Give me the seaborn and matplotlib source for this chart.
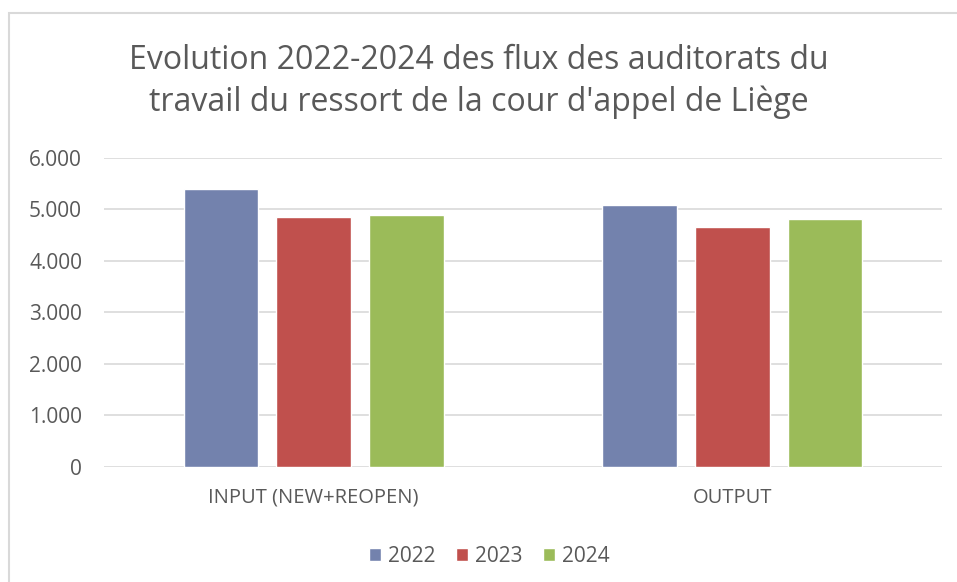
import pandas as pd
import matplotlib.pyplot as plt
import seaborn as sns
from matplotlib.patches import Rectangle
from matplotlib.ticker import FuncFormatter

categories = ['INPUT (NEW+REOPEN)', 'OUTPUT']
years = ['2022', '2023', '2024']
values_2022 = [5400, 5078]
values_2023 = [4856, 4650]
values_2024 = [4883, 4805]
colors = ['#7382ad', '#c0504d', '#9bbb59']

df = pd.DataFrame({
    'category': categories * 3,
    'year': [y for y in years for _ in categories],
    'value': values_2022 + values_2023 + values_2024,
})

sns.set_theme(style='white')
plt.rcParams['font.family'] = ['Open Sans', 'DejaVu Sans']
text_color = '#595959'

fig = plt.figure(figsize=(9.57, 5.82), dpi=100)
ax = fig.add_axes([0.109, 0.198, 0.875, 0.531])

sns.barplot(
    data=df,
    x='category',
    y='value',
    hue='year',
    palette=colors,
    width=0.666,
    gap=0.2,
    saturation=1,
    ax=ax,
)

ax.set_ylim(0, 6000)
ax.set_xlim(-0.5, 1.5)
ax.set_yticks(range(0, 6001, 1000))
ax.yaxis.set_major_formatter(FuncFormatter(lambda v, _: f'{int(v):,}'.replace(',', '.')))
ax.grid(axis='y', color='#d9d9d9', linewidth=1.2)
ax.set_axisbelow(True)
for s in ax.spines.values():
    s.set_visible(False)
ax.set_xlabel('')
ax.set_ylabel('')
ax.tick_params(axis='y', labelsize=15, colors=text_color, pad=16, length=0)
ax.tick_params(axis='x', labelsize=14.5, colors=text_color, pad=15, length=0)

ax.legend(
    loc='center',
    bbox_to_anchor=(0.46, -0.29),
    ncol=3,
    frameon=False,
    fontsize=15,
    labelcolor=text_color,
    handlelength=0.55,
    handleheight=0.55,
    handletextpad=0.35,
    columnspacing=1.0,
)

fig.text(0.5, 0.86, 'Evolution 2022-2024 des flux des auditorats du\ntravail du ressort de la cour d\'appel de Liège',
         ha='center', va='center', fontsize=23, color=text_color, linespacing=1.3)

fig.patches.append(Rectangle((9 / 957, -0.1), 1.2, 1 - 13 / 582 + 0.1,
                             transform=fig.transFigure, fill=False,
                             edgecolor='#d9d9d9', linewidth=1.5))

fig.savefig('out.png', dpi=100)
